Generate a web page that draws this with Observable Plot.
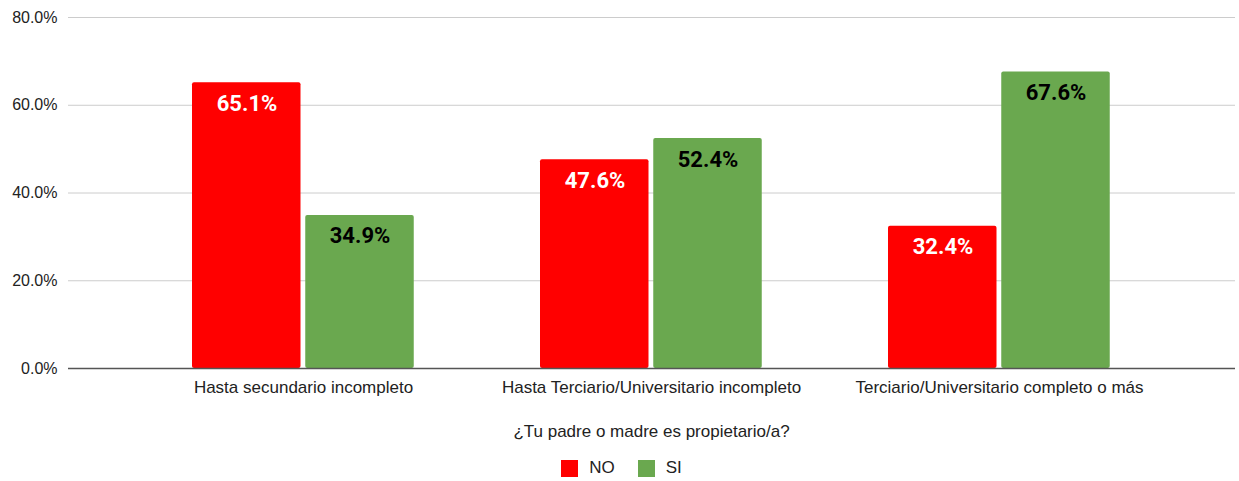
<!DOCTYPE html>
<html>
<head>
<meta charset="utf-8">
<script src="https://cdn.jsdelivr.net/npm/d3@7"></script>
<script src="https://cdn.jsdelivr.net/npm/@observablehq/plot@0.6"></script>
<style>
  body { margin: 0; background: #fff; font-family: "Liberation Sans", Arial, sans-serif; }
  #title { text-align: center; font-size: 17px; color: #222; margin-top: 22px; padding-left: 64px; line-height: 20px; }
  #legend { display: flex; justify-content: center; align-items: center; margin-top: 16px; padding-left: 4px; font-size: 17px; color: #222; line-height: 20px; }
  .sw { width: 17px; height: 17px; display: inline-block; margin-right: 11px; }
  .item { display: flex; align-items: center; margin: 0 11.5px; }
</style>
</head>
<body>
<div id="chart"></div>
<div id="title"></div>
<div id="legend"></div>
<script>
const categories = ["Hasta secundario incompleto", "Hasta Terciario/Universitario incompleto", "Terciario/Universitario completo o más"];
const seriesNames = ["NO", "SI"];
const noValues = [65.1, 47.6, 32.4];
const siValues = [34.9, 52.4, 67.6];
const yTicks = [0, 20, 40, 60, 80];
const titleText = "¿Tu padre o madre es propietario/a?";
const colors = {NO: "#ff0000", SI: "#6aa84f"};

const noData = categories.map((c, i) => ({cat: c, series: "NO", value: noValues[i]}));
const siData = categories.map((c, i) => ({cat: c, series: "SI", value: siValues[i]}));
const fmt = d => d.toFixed(1) + "%";

const chart = Plot.plot({
  width: 1239,
  height: 400,
  marginLeft: 68,
  marginRight: 4,
  marginTop: 17,
  marginBottom: 32,
  style: {fontFamily: '"Liberation Sans", Arial, sans-serif', fontSize: "16px", color: "#222", background: "#fff"},
  x: {domain: categories, range: [127.75, 1173.25], padding: 0, axis: null, label: null},
  y: {domain: [0, 80], axis: null, label: null},
  marks: [
    Plot.ruleY(yTicks.filter(t => t > 0), {stroke: "#cccccc", strokeWidth: 1}),
    Plot.barY(noData, {x: "cat", y: "value", fill: colors.NO, insetLeft: 63, insetRight: 176.5, rx: 2}),
    Plot.barY(siData, {x: "cat", y: "value", fill: colors.SI, insetLeft: 176.25, insetRight: 63.25, rx: 2}),
    Plot.ruleY([0], {stroke: "#555", strokeWidth: 1.3}),
    Plot.axisY({ticks: yTicks, tickFormat: fmt, tickSize: 0, tickPadding: 11, fontSize: 16, fill: "#222", label: null}),
    Plot.axisX({tickSize: 0, tickPadding: 12, fontSize: 17, fill: "#222", label: null}),
    Plot.text(noData, {x: "cat", y: "value", text: d => fmt(d.value), dx: -56.5, dy: 21, fill: "#fff", fontWeight: "bold", fontSize: 22, fontFamily: "Roboto"}),
    Plot.text(siData, {x: "cat", y: "value", text: d => fmt(d.value), dx: 56.5, dy: 21, fill: "#000", fontWeight: "bold", fontSize: 22, fontFamily: "Roboto"})
  ]
});
document.getElementById("chart").append(chart);
document.getElementById("title").textContent = titleText;
const legend = document.getElementById("legend");
for (const s of seriesNames) {
  const item = document.createElement("span");
  item.className = "item";
  const sw = document.createElement("span");
  sw.className = "sw";
  sw.style.background = colors[s];
  item.append(sw, document.createTextNode(s));
  legend.append(item);
}
</script>
</body>
</html>
